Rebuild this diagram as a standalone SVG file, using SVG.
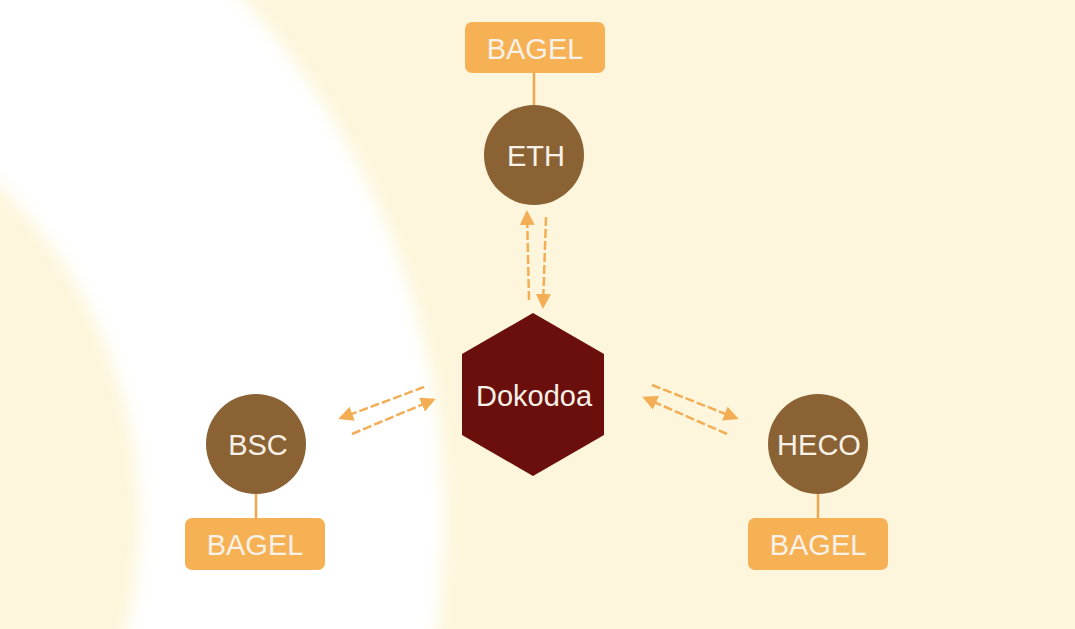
<svg xmlns="http://www.w3.org/2000/svg" width="1075" height="629" viewBox="0 0 1075 629">
  <style>
    .chain { fill: #8a6234; }
    .tag { fill: #f5b154; }
    .stem { stroke: #f0a74c; stroke-width: 2.5; fill: none; }
    .lbl { font-family: "Liberation Sans", Arial, sans-serif; font-size: 29px; fill: #f7f1e8; text-anchor: middle; dominant-baseline: central; }
    .flow { stroke: #f3ae55; stroke-width: 2.5; stroke-dasharray: 9 3; fill: none; marker-end: url(#head); }
  </style>
  <defs>
    <marker id="head" viewBox="0 0 10 10" refX="8" refY="5" markerWidth="6" markerHeight="6" orient="auto" markerUnits="strokeWidth">
      <path d="M0,0 L10,5 L0,10 z" fill="#f3ae55"/>
    </marker>
    <filter id="soft" x="-20%" y="-20%" width="140%" height="140%">
      <feGaussianBlur stdDeviation="8"/>
    </filter>
  </defs>

  <rect width="1075" height="629" fill="#fdf6dc"/>
  <circle cx="-330" cy="520" r="622" fill="none" stroke="#ffffff" stroke-width="304" filter="url(#soft)"/>

  <g id="connectors">
    <line class="stem" x1="534" y1="73" x2="534" y2="105"/>
    <line class="stem" x1="256" y1="494" x2="256" y2="518"/>
    <line class="stem" x1="818" y1="494" x2="818" y2="518"/>
    <line class="flow" x1="529" y1="300" x2="527" y2="213"/>
    <line class="flow" x1="546" y1="217" x2="543" y2="306"/>
    <line class="flow" x1="424" y1="387" x2="341" y2="418"/>
    <line class="flow" x1="352" y1="434" x2="433" y2="400"/>
    <line class="flow" x1="652" y1="385" x2="736" y2="418"/>
    <line class="flow" x1="727" y1="434" x2="645" y2="398"/>
  </g>

  <g id="dokodoa">
    <polygon points="533,313 604,354 604,435 533,476 462,435 462,354" fill="#6a0f0b"/>
    <text class="lbl" x="534" y="396" font-size="29">Dokodoa</text>
  </g>

  <g id="eth">
    <circle class="chain" cx="534" cy="155" r="50"/>
    <text class="lbl" x="536" y="156">ETH</text>
  </g>
  <g id="eth-bagel">
    <rect class="tag" x="465" y="22" width="140" height="51" rx="7"/>
    <text class="lbl" x="535" y="49">BAGEL</text>
  </g>

  <g id="bsc">
    <circle class="chain" cx="256" cy="444" r="50"/>
    <text class="lbl" x="258" y="445">BSC</text>
  </g>
  <g id="bsc-bagel">
    <rect class="tag" x="185" y="518" width="140" height="52" rx="7"/>
    <text class="lbl" x="255" y="545">BAGEL</text>
  </g>

  <g id="heco">
    <circle class="chain" cx="818" cy="444" r="50"/>
    <text class="lbl" x="819" y="445">HECO</text>
  </g>
  <g id="heco-bagel">
    <rect class="tag" x="748" y="518" width="140" height="52" rx="7"/>
    <text class="lbl" x="818" y="545">BAGEL</text>
  </g>
</svg>
